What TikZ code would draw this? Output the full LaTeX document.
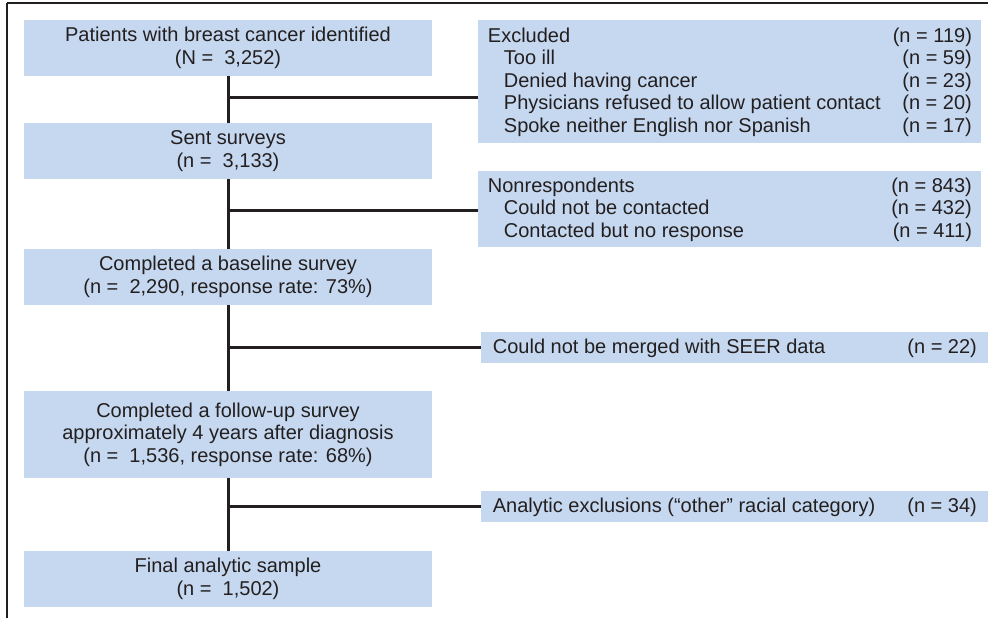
\documentclass[tikz,border=0pt]{standalone}
\usepackage{fontspec}
\setmainfont{Liberation Sans}
\usepackage{tikz}
\usetikzlibrary{calc}
\usetikzlibrary{positioning}
\definecolor{boxblue}{RGB}{197, 216, 239}
\definecolor{inkgray}{RGB}{35, 31, 32}
\newlength\exwd
\setlength\exwd{242pt}
\newcommand{\exrow}[2]{\makebox[\exwd][l]{#1\hfill#2}}
\newcommand{\exind}{\hspace*{8pt}}

\begin{document}
\begin{tikzpicture}[x=0.5pt, y=-0.5pt, font=\fontsize{10}{11.25}\selectfont, text=inkgray,
        stage/.style={fill=boxblue, minimum width=204pt, minimum height=28pt, align=center, inner sep=0pt},
        exbox/.style={fill=boxblue, minimum width=251.5pt, anchor=north west, align=left, inner sep=0pt},
        link/.style={draw=inkgray, line width=1.5pt}]
            \useasboundingbox (0,0) rectangle (988,618);
            % Frame
            \draw[inkgray, line width=0.7pt] (7,618) -- (7,3);
            \draw[inkgray, line width=1.1pt] (7,3) -- (988,3);
            % Main flow
            \node[stage]                     (ident) at (228,  48.0) {Patients with breast cancer identified\\(N = \ 3,252)};
            \node[stage]                     (sent)  at (228, 151.0) {Sent surveys\\(n = \ 3,133)};
            \node[stage]                     (base)  at (228, 277.0) {Completed a baseline survey\\(n = \ 2,290, response rate: 73\%)};
            \node[stage, minimum height=43.5pt] (follow) at (228, 434.5) {Completed a follow-up survey\\approximately 4 years after diagnosis\\(n = \ 1,536, response rate: 68\%)};
            \node[stage]                     (final) at (228, 579.0) {Final analytic sample\\(n = \ 1,502)};
            % Exclusions
            \node[exbox, minimum height=61.5pt] (excl) at (478,  20) {%
                \exrow{Excluded}{(n = 119)}\\
                \exrow{\exind Too ill}{(n = 59)}\\
                \exrow{\exind Denied having cancer}{(n = 23)}\\
                \exrow{\exind Physicians refused to allow patient contact}{(n = 20)}\\
                \exrow{\exind Spoke neither English nor Spanish}{(n = 17)}};
            \node[exbox, minimum height=38pt]   (nonresp) at (478, 171) {%
                \exrow{Nonrespondents}{(n = 843)}\\
                \exrow{\exind Could not be contacted}{(n = 432)}\\
                \exrow{\exind Contacted but no response}{(n = 411)}};
            \node[exbox, minimum width=253.5pt, minimum height=15.5pt] (seer) at (481, 332) {%
                \exrow{Could not be merged with SEER data}{(n = 22)}};
            \node[exbox, minimum width=253.5pt, minimum height=15.5pt] (other) at (481, 491) {%
                \exrow{Analytic exclusions (“other” racial category)}{(n = 34)}};
            % Trunk
            \draw[link] (ident) -- (sent);
            \draw[link] (sent)  -- (base);
            \draw[link] (base)  -- (follow);
            \draw[link] (follow) -- (final);
            % Branches
            \coordinate (j1) at ($(ident.south)!0.45!(sent.north)$);
            \coordinate (j2) at ($(sent.south)!0.45!(base.north)$);
            \draw[link] (j1) -- (j1 -| excl.west);
            \draw[link] (j2) -- (j2 -| nonresp.west);
            \draw[link] (base.south |- seer.west)   -- (seer.west);
            \draw[link] (follow.south |- other.west) -- (other.west);
        \end{tikzpicture}
\end{document}
